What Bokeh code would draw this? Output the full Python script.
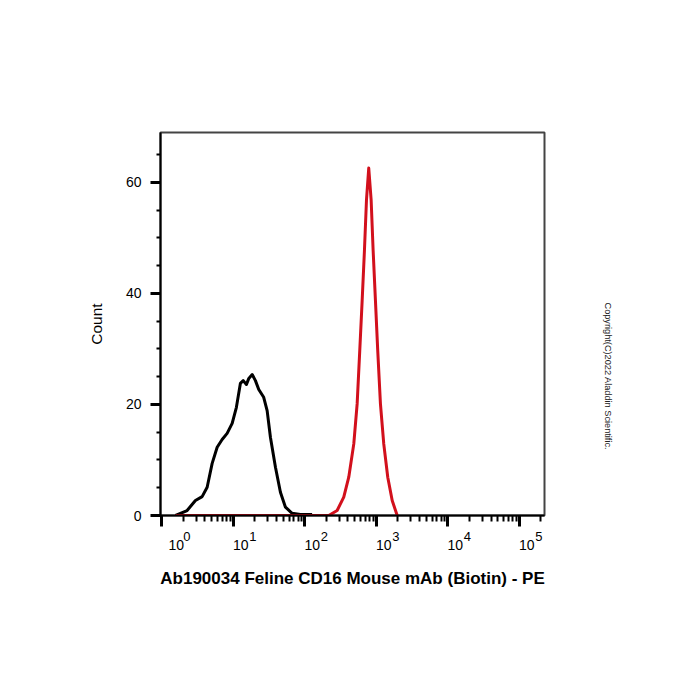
from bokeh.plotting import figure
from bokeh.models import (Range1d, FixedTicker, CustomJSTickFormatter,
                          SingleIntervalTicker, LogAxis, Title)
from bokeh.embed import file_html
from bokeh.resources import INLINE

# isotype control (black) histogram: fluorescence intensity vs count
iso_x = [1.55, 2.25, 2.94, 3.65, 4.29, 5.04, 5.92, 6.95, 8.16, 9.6, 11.0, 12.5,
         13.7, 15.2, 16.4, 18.3, 20.3, 22.6, 26.5, 29.6, 32.9, 38.7, 45.4,
         53.4, 66.2, 86.5, 126]
iso_y = [0, 0.9, 2.7, 3.4, 5.1, 9.4, 12.3, 13.7, 14.8, 16.6, 19.5, 23.8,
         24.3, 23.6, 24.7, 25.4, 24.3, 22.7, 21.3, 18.9, 14.1, 8.7, 4.2,
         1.5, 0.4, 0.2, 0.2]
# stained sample (red) histogram
pe_x = [1.55, 215, 282, 349, 410, 482, 537, 584, 631, 679, 725, 780, 843,
        899, 968, 1042, 1137, 1265, 1439, 1660, 1950]
pe_y = [0, 0, 0.9, 3.3, 6.9, 12.9, 20.1, 29.7, 38.7, 47.7, 56.8, 62.6, 56.8,
        47.7, 38.7, 29.7, 20.1, 12.9, 6.9, 2.7, 0]

decade_exponents = [0, 1, 2, 3, 4, 5]
decade_base = ["10", "10", "10", "10", "10", "10"]
decade_exp = ["0", "1", "2", "3", "4", "5"]
minor_mult = [2, 3, 4, 5, 6, 7, 8, 9]

x_title = "Ab190034 Feline CD16 Mouse mAb (Biotin) - PE"
y_title = "Count"
copyright_text = "Copyright(C)2022 Aladdin Scientific."

FONT = "Liberation Sans"
PX_PER_DECADE = 71.5

p = figure(width=700, height=700, x_axis_type="log",
           x_range=Range1d(10 ** -0.02, 10 ** 5.35), y_range=Range1d(0, 69),
           output_backend="svg", toolbar_location=None,
           min_border_left=160, min_border_right=156,
           min_border_top=132, min_border_bottom=185)
p.background_fill_color = "white"
p.border_fill_color = "white"
p.outline_line_color = "#444444"
p.outline_line_width = 2
p.xgrid.visible = False
p.ygrid.visible = False

p.line(iso_x, iso_y, line_color="black", line_width=3, line_join="round")
p.line(pe_x, pe_y, line_color="#d2101c", line_width=3, line_join="round")

decades = [10 ** k for k in decade_exponents]
minor = [m * 10 ** k for k in [-1] + decade_exponents for m in minor_mult]

# main x axis: line and ticks only
xa = p.xaxis[0]
xa.ticker = FixedTicker(ticks=decades, minor_ticks=minor)
xa.formatter = CustomJSTickFormatter(code="return ''")
xa.major_label_text_font_size = "1px"
xa.major_label_standoff = 0
xa.axis_line_width = 2
xa.axis_line_color = "black"
xa.major_tick_out = 11
xa.major_tick_in = 0
xa.major_tick_line_width = 3
xa.minor_tick_out = 6
xa.minor_tick_in = 0
xa.minor_tick_line_width = 2


def shifted(px_first, px_rest):
    out = []
    for i, k in enumerate(decade_exponents):
        s = px_first if i == 0 else px_rest
        out.append(10 ** (k + s / PX_PER_DECADE))
    return out


def label_axis(ticks, labels, size, standoff):
    ax = LogAxis(ticker=FixedTicker(ticks=ticks, minor_ticks=[]),
                 formatter=CustomJSTickFormatter(args=dict(labels=labels),
                                                 code="return labels[index]"))
    ax.axis_line_color = None
    ax.major_tick_line_color = None
    ax.minor_tick_line_color = None
    ax.major_tick_out = 0
    ax.major_tick_in = 0
    ax.minor_tick_out = 0
    ax.minor_tick_in = 0
    ax.major_label_text_font = FONT
    ax.major_label_text_font_size = size
    ax.major_label_text_color = "black"
    ax.major_label_standoff = standoff
    return ax


# exponent row (superscripts)
exp_axis = label_axis(shifted(25, 19.5), decade_exp, "13px", 5)
p.add_layout(exp_axis, "below")
# base row "10" plus the axis title
base_axis = label_axis(shifted(14.3, 7.3), decade_base, "14px", -4)
base_axis.axis_label = x_title
base_axis.axis_label_text_font = FONT
base_axis.axis_label_text_font_style = "bold"
base_axis.axis_label_text_font_size = "17px"
base_axis.axis_label_text_color = "black"
base_axis.axis_label_standoff = 16
p.add_layout(base_axis, "below")

# y axis
ya = p.yaxis[0]
ya.ticker = SingleIntervalTicker(interval=20, num_minor_ticks=4)
ya.axis_line_width = 2
ya.axis_line_color = "black"
ya.major_tick_out = 10
ya.major_tick_in = 0
ya.major_tick_line_width = 3
ya.minor_tick_out = 4
ya.minor_tick_in = 0
ya.minor_tick_line_width = 2
ya.major_label_text_font = FONT
ya.major_label_text_font_size = "14px"
ya.major_label_text_color = "black"
ya.major_label_standoff = 9
ya.axis_label = y_title
ya.axis_label_text_font = FONT
ya.axis_label_text_font_style = "normal"
ya.axis_label_text_font_size = "15.5px"
ya.axis_label_text_color = "black"
ya.axis_label_standoff = 18

# copyright note on the right side, reading top to bottom
p.add_layout(Title(text=copyright_text, align="left", offset=170,
                   standoff=116, text_font=FONT, text_font_size="9.2px",
                   text_font_style="normal", text_color="#222222"), "right")

open("out.html", "w").write(file_html(p, INLINE))
